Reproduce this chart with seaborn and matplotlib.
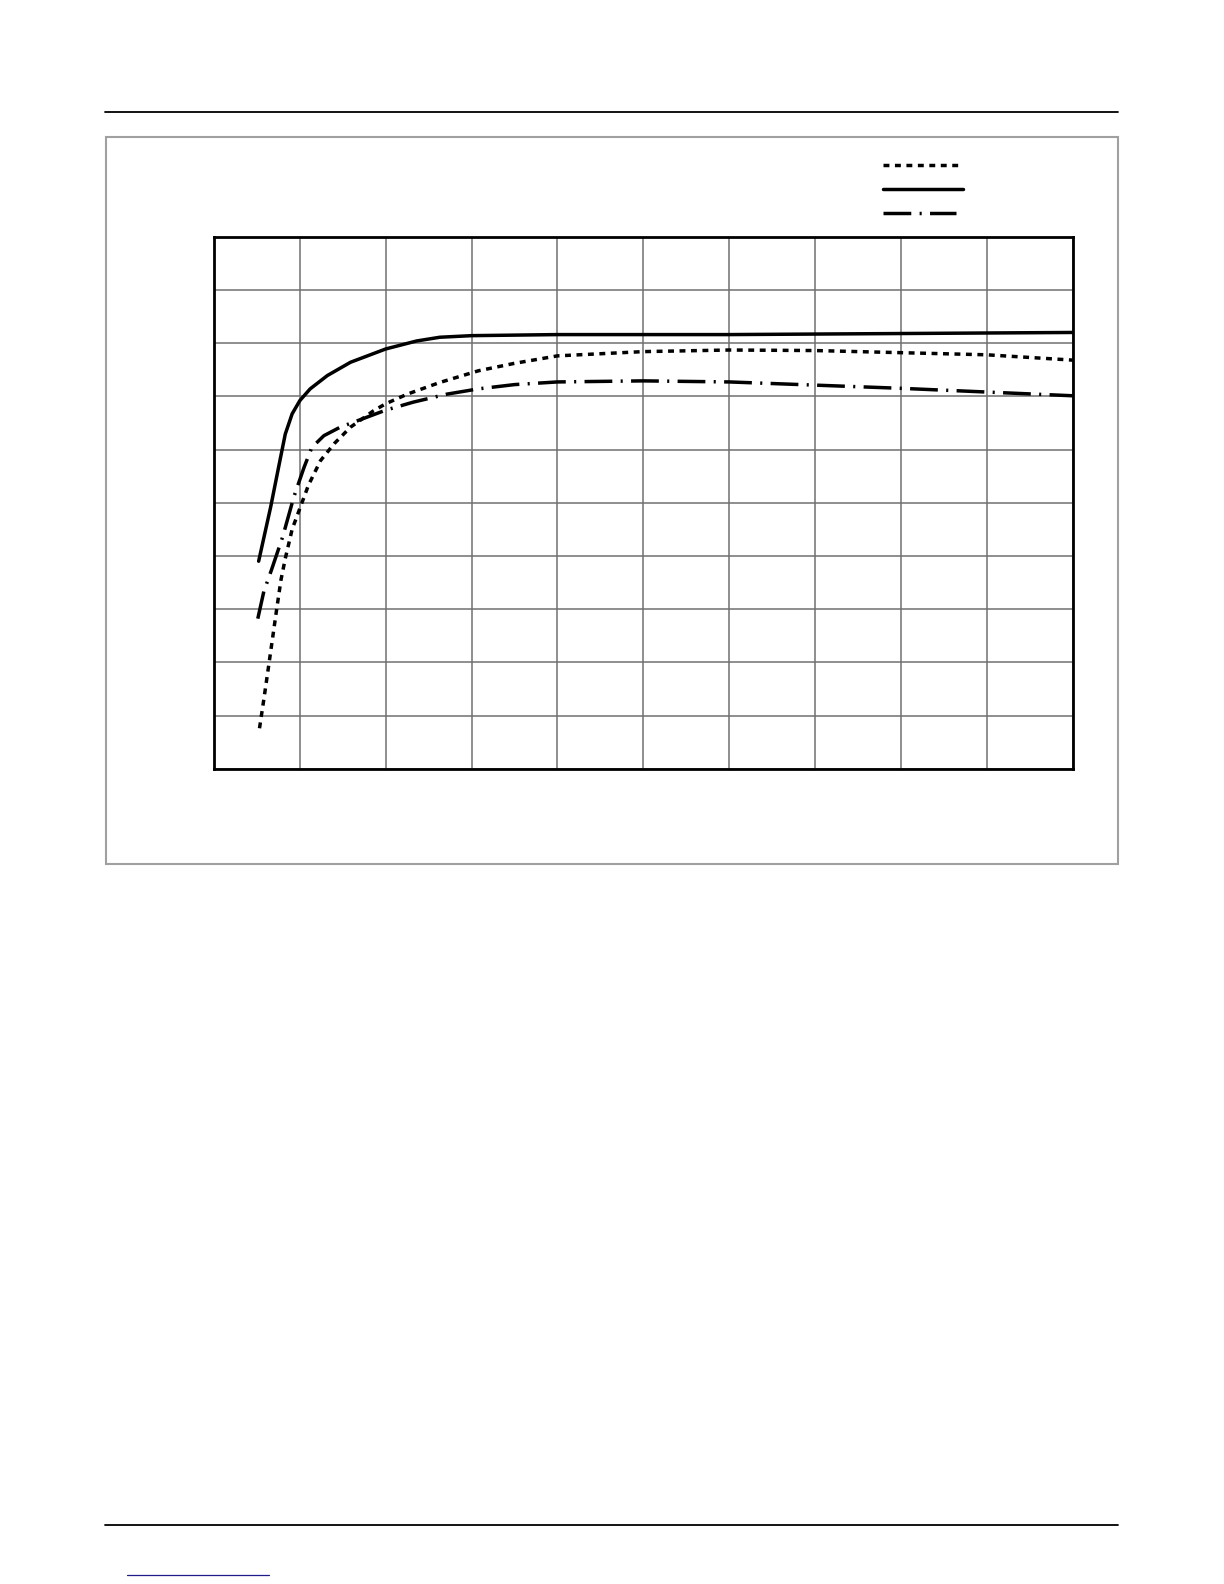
import numpy as np
import pandas as pd
import seaborn as sns
import matplotlib.pyplot as plt
from matplotlib.lines import Line2D
from matplotlib.patches import Rectangle

# curve values, in grid units (10 x 10 grid, no labels on the page)
x_dotted = [0.53, 0.58, 0.63, 0.68, 0.73, 0.78, 0.83, 0.91, 0.99, 1.10, 1.24, 1.40,
            1.59, 1.86, 2.0, 2.25, 2.63, 3.08, 3.5, 4.0, 5.0, 6.0, 7.0, 8.0, 9.0, 10.0]
y_dotted = [0.76, 1.30, 1.86, 2.43, 3.00, 3.55, 3.95, 4.50, 4.85, 5.33, 5.79, 6.11,
            6.42, 6.73, 6.86, 7.04, 7.26, 7.48, 7.62, 7.76, 7.84, 7.87, 7.86, 7.82,
            7.78, 7.68]

x_solid = [0.52, 0.66, 0.76, 0.83, 0.91, 1.0, 1.12, 1.32, 1.59, 2.0, 2.36, 2.63,
           3.0, 4.0, 5.0, 6.0, 7.0, 8.0, 9.0, 10.0]
y_solid = [3.90, 4.92, 5.73, 6.29, 6.67, 6.92, 7.14, 7.39, 7.64, 7.89, 8.04, 8.11,
           8.14, 8.16, 8.16, 8.16, 8.17, 8.18, 8.19, 8.20]

x_dashdot = [0.51, 0.58, 0.67, 0.80, 0.93, 1.05, 1.14, 1.28, 1.47, 1.67, 2.0, 2.32,
             2.71, 3.08, 3.5, 4.0, 5.0, 6.0, 7.0, 8.0, 9.0, 10.0]
y_dashdot = [2.82, 3.33, 3.74, 4.36, 5.11, 5.67, 6.04, 6.26, 6.42, 6.54, 6.74, 6.89,
             7.04, 7.14, 7.22, 7.27, 7.29, 7.27, 7.21, 7.15, 7.08, 7.01]

grid_ticks = list(range(0, 11))

sns.set_style("white")

W, H = 1224, 1584
fig = plt.figure(figsize=(W / 100, H / 100), dpi=100)
fig.patch.set_facecolor("white")

# page decorations (header / footer rules, figure frame)
def fx(px):
    return px / W

def fy(py):
    return 1 - py / H

fig.add_artist(Line2D([fx(105), fx(1118)], [fy(112), fy(112)], color="black", lw=1.3))
fig.add_artist(Line2D([fx(105), fx(1118)], [fy(1525), fy(1525)], color="black", lw=1.3))
fig.add_artist(Line2D([fx(127), fx(269)], [fy(1575), fy(1575)], color="#1c1c8a", lw=0.9))
fig.add_artist(Rectangle((fx(106), fy(864)), fx(1118) - fx(106), fy(137) - fy(864),
                         fill=False, edgecolor="#a0a0a0", lw=1.5))

ax = fig.add_axes([fx(214), fy(768.7), fx(1072.7) - fx(214), fy(236.7) - fy(768.7)])

lw = 2.5
dotted_style = (0, (1.7, 1.6))
dashdot_style = (0, (8, 2.4, 0.6, 2.4))

sns.lineplot(x=x_dotted, y=y_dotted, ax=ax, color="black", lw=lw,
             linestyle=dotted_style, sort=False)
sns.lineplot(x=x_solid, y=y_solid, ax=ax, color="black", lw=lw, sort=False)
sns.lineplot(x=x_dashdot, y=y_dashdot, ax=ax, color="black", lw=lw,
             linestyle=dashdot_style, sort=False)

ax.set_xlim(0, 10)
ax.set_ylim(0, 10)
ax.set_xticks(grid_ticks)
ax.set_yticks(grid_ticks)
ax.set_xticklabels([])
ax.set_yticklabels([])
ax.tick_params(length=0)
ax.set_xlabel("")
ax.set_ylabel("")
ax.grid(True, color="#707070", lw=1.1)
for side in ax.spines.values():
    side.set_color("black")
    side.set_linewidth(2.0)

# legend samples (no text on the page)
fig.add_artist(Line2D([fx(883), fx(963)], [fy(165), fy(165)], color="black",
                      lw=lw, linestyle=dotted_style))
fig.add_artist(Line2D([fx(883), fx(963)], [fy(189), fy(189)], color="black", lw=lw))
fig.add_artist(Line2D([fx(883), fx(956)], [fy(213), fy(213)], color="black",
                      lw=lw, linestyle=dashdot_style))

fig.savefig("out.png", dpi=100, facecolor="white")
